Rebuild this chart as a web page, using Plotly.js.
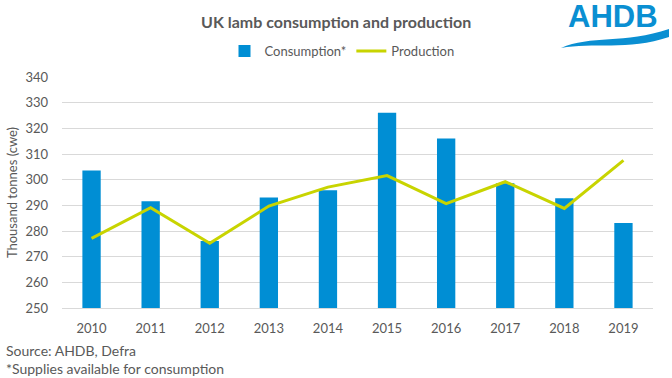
<!DOCTYPE html>
<html>
<head>
<meta charset="utf-8">
<script src="https://cdn.plot.ly/plotly-3.0.1.min.js"></script>
<style>html,body{margin:0;padding:0;background:#fff;}#chart{width:672px;height:378px;}</style>
</head>
<body>
<div id="chart"></div>
<script>
const years = ['2010','2011','2012','2013','2014','2015','2016','2017','2018','2019'];
const consumption = [303.6, 291.6, 276.1, 293.1, 295.9, 326.1, 316.0, 298.6, 292.8, 283.1];
const production = [277.1, 289.1, 275.2, 289.7, 297.1, 301.6, 290.7, 299.2, 288.8, 307.5];
const yTicks = [250, 260, 270, 280, 290, 300, 310, 320, 330, 340];

const W = 672, H = 378;
const M = {l: 62, r: 19, t: 77, b: 70};
const pw = W - M.l - M.r, ph = H - M.t - M.b;
const px = x => (x - M.l) / pw;
const py = y => (H - M.b - y) / ph;

const font = '"Lato", "Open Sans", sans-serif';
const grey = '#595959';

const traces = [
  {type: 'bar', x: years, y: consumption, name: 'Consumption*',
   marker: {color: '#008ed4'}, width: 0.31},
  {type: 'scatter', mode: 'lines', x: years, y: production, name: 'Production',
   line: {color: '#c8d400', width: 3}}
];

const sw = [[561,48],[590,35],[625,44],[669,29],[669,37],[628,51],[592,42],[561,48]];
const swPath = `M ${px(sw[0][0])} ${py(sw[0][1])} C ${px(sw[1][0])} ${py(sw[1][1])}, ${px(sw[2][0])} ${py(sw[2][1])}, ${px(sw[3][0])} ${py(sw[3][1])} L ${px(sw[4][0])} ${py(sw[4][1])} C ${px(sw[5][0])} ${py(sw[5][1])}, ${px(sw[6][0])} ${py(sw[6][1])}, ${px(sw[7][0])} ${py(sw[7][1])} Z`;

const layout = {
  width: W, height: H,
  margin: M,
  paper_bgcolor: '#fff', plot_bgcolor: '#fff',
  font: {family: font, size: 13, color: grey},
  showlegend: true,
  legend: {orientation: 'h', x: px(342), xanchor: 'center', y: py(51), yanchor: 'middle',
           font: {family: font, size: 13, color: grey}, traceorder: 'normal', itemwidth: 30},
  bargap: 0.69,
  xaxis: {type: 'category', showgrid: false, showline: true, linecolor: '#d9d9d9', linewidth: 1,
          ticks: '', ticklabelstandoff: 8, tickfont: {family: font, size: 13, color: grey}},
  yaxis: {range: [250, 340], tickvals: yTicks, ticktext: yTicks.map(String), showgrid: true,
          gridcolor: '#d9d9d9', gridwidth: 1, zeroline: false, showline: false, ticks: '',
          ticklabelstandoff: 13, tickfont: {family: font, size: 13, color: grey},
          title: {text: 'Thousand tonnes (cwe)', font: {family: font, size: 13, color: grey}, standoff: 4}},
  annotations: [
    {text: '<b>UK lamb consumption and production</b>', xref: 'paper', yref: 'paper',
     x: px(336), y: py(22), xanchor: 'center', yanchor: 'middle', showarrow: false,
     font: {family: font, size: 16, color: grey}},
    {text: 'Source: AHDB, Defra', xref: 'paper', yref: 'paper', x: px(4), y: py(350),
     xanchor: 'left', yanchor: 'middle', showarrow: false, font: {family: font, size: 14, color: grey}},
    {text: '*Supplies available for consumption', xref: 'paper', yref: 'paper', x: px(4), y: py(368),
     xanchor: 'left', yanchor: 'middle', showarrow: false, font: {family: font, size: 14, color: grey}},
    {text: '<b>AHDB</b>', xref: 'paper', yref: 'paper', x: px(613), y: py(17), xanchor: 'center', yanchor: 'middle',
     showarrow: false, font: {family: '"Liberation Sans", Arial, sans-serif', size: 31, color: '#0a8fd2'}}
  ],
  shapes: [
    {type: 'path', xref: 'paper', yref: 'paper', path: swPath, fillcolor: '#0a8fd2', line: {width: 0}}
  ]
};

Plotly.newPlot('chart', traces, layout, {displayModeBar: false, staticPlot: true});
</script>
</body>
</html>
